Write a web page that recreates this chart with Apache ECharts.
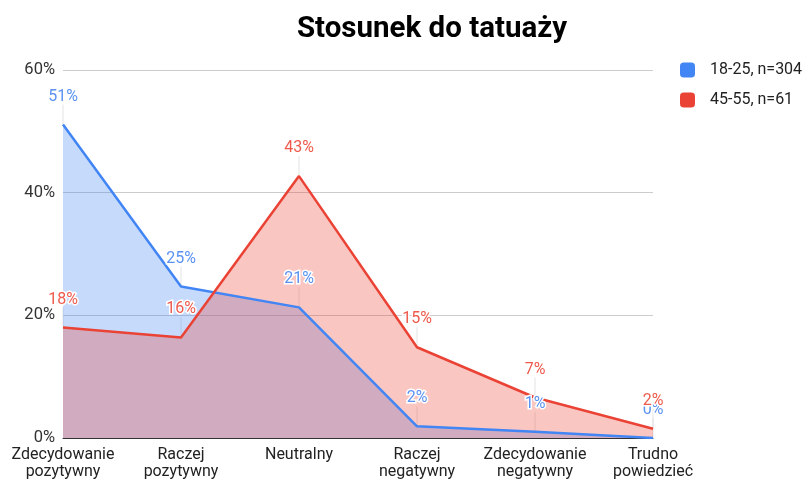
<!DOCTYPE html>
<html>
<head>
<meta charset="utf-8">
<script src="https://cdn.jsdelivr.net/npm/echarts@6/dist/echarts.min.js"></script>
<style>
  html, body { margin: 0; padding: 0; background: #fff; }
  #chart { width: 808px; height: 480px; }
</style>
</head>
<body>
<div id="chart"></div>
<script>
  const categories = ['Zdecydowanie\npozytywny', 'Raczej\npozytywny', 'Neutralny', 'Raczej\nnegatywny', 'Zdecydowanie\nnegatywny', 'Trudno\npowiedzieć'];
  const young = [51.1, 24.7, 21.3, 1.9, 1.0, 0];
  const older = [18.0, 16.4, 42.7, 14.8, 6.6, 1.5];
  const yTicks = [0, 20, 40, 60];

  const myChart = echarts.init(document.getElementById('chart'));

  const labelStyle = (color) => ({
    show: true,
    position: 'top',
    distance: 20,
    color: color,
    fontFamily: 'Roboto',
    fontSize: 16,
    textBorderColor: '#fff',
    textBorderWidth: 3,
    formatter: (p) => Math.round(p.value) + '%'
  });

  // thin guide lines from each point up to its label
  const guides = {
    type: 'custom',
    silent: true,
    z: 1,
    data: categories.map((c, i) => [i, young[i], older[i]]),
    renderItem: (params, api) => {
      const a = api.coord([api.value(0), api.value(1)]);
      const b = api.coord([api.value(0), api.value(2)]);
      return {
        type: 'group',
        children: [a, b].map(p => ({
          type: 'line',
          shape: { x1: p[0], y1: p[1], x2: p[0], y2: p[1] - 20 },
          style: { stroke: '#e3e3e3', lineWidth: 1 }
        }))
      };
    }
  };

  const area = (name, data, color) => ({
    name: name,
    type: 'line',
    data: data,
    z: 2,
    symbol: 'none',
    silent: true,
    lineStyle: { width: 0 },
    color: color,
    areaStyle: { color: color, opacity: 0.3 }
  });

  const line = (name, data, color, labelColor) => ({
    name: name,
    type: 'line',
    data: data,
    z: 3,
    symbol: 'circle',
    symbolSize: 0,
    color: color,
    lineStyle: { width: 2.5, color: color },
    label: labelStyle(labelColor)
  });

  const option = {
    animation: false,
    title: {
      text: 'Stosunek do tatuaży',
      left: 427,
      top: 10,
      textAlign: 'center',
      textStyle: { fontFamily: 'Roboto', fontSize: 29.5, fontWeight: 'bold', color: '#000' }
    },
    legend: {
      data: ['18-25, n=304', '45-55, n=61'],
      orient: 'vertical',
      left: 675,
      top: 57,
      itemGap: 14,
      itemWidth: 15,
      itemHeight: 15,
      icon: 'roundRect',
      textStyle: { fontFamily: 'Roboto', fontSize: 16, color: '#222', padding: [0, 0, 0, 10] }
    },
    grid: { left: 63, right: 155, top: 70, bottom: 40 },
    xAxis: {
      type: 'category',
      data: categories,
      boundaryGap: false,
      axisTick: { show: false },
      axisLine: { lineStyle: { color: '#333' } },
      axisLabel: {
        interval: 0,
        fontFamily: 'Roboto',
        fontSize: 16,
        color: '#222',
        lineHeight: 17,
        margin: 8
      }
    },
    yAxis: {
      type: 'value',
      min: yTicks[0],
      max: yTicks[yTicks.length - 1],
      interval: 20,
      axisLabel: {
        formatter: '{value}%',
        fontFamily: 'Roboto',
        fontSize: 16.5,
        color: '#333',
        margin: 8
      },
      splitLine: { lineStyle: { color: '#cccccc' } }
    },
    series: [
      guides,
      area('18-25, n=304', young, '#4285f4'),
      area('45-55, n=61', older, '#ea4335'),
      line('18-25, n=304', young, '#4285f4', '#5b92f2'),
      line('45-55, n=61', older, '#ea4335', '#ee5a4c')
    ]
  };

  myChart.setOption(option);
</script>
</body>
</html>
